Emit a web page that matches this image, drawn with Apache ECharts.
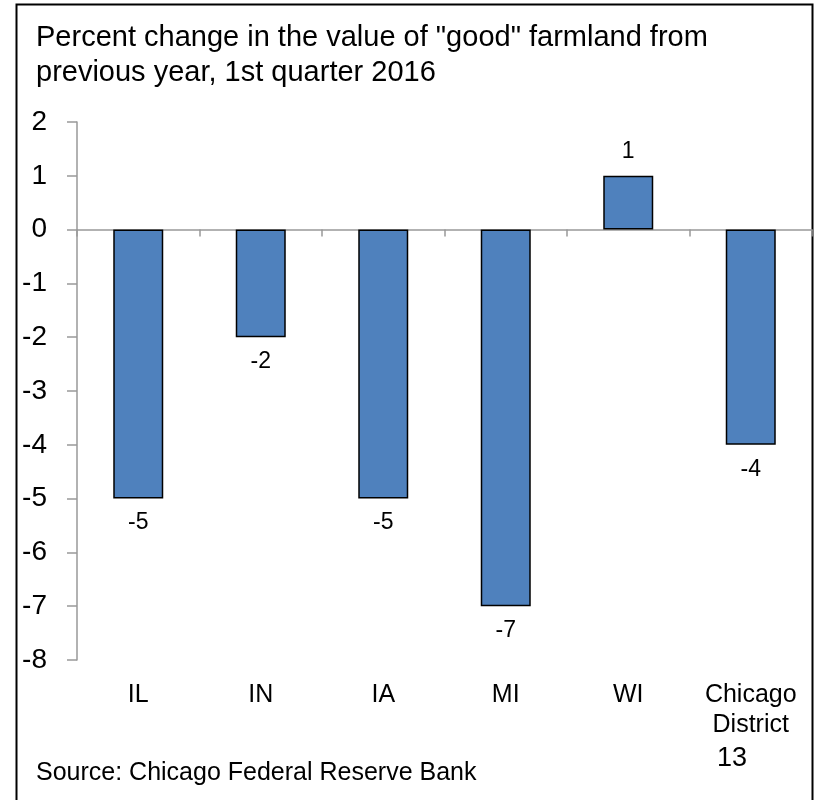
<!DOCTYPE html>
<html lang="en">
<head>
    <meta charset="utf-8">
    <title>Farmland value change</title>
    <script src="https://cdn.jsdelivr.net/npm/echarts@6/dist/echarts.min.js"></script>
    <style>
        html, body { margin: 0; padding: 0; background: #fff; }
        #main { width: 817px; height: 800px; }
    </style>
</head>
<body>
    <div id="main"></div>

    <script type="text/javascript">

    // data
    var states = ['IL', 'IN', 'IA', 'MI', 'WI', 'Chicago\nDistrict'];
    var change = [-5, -2, -5, -7, 1, -4];
    var yTicks = { min: -8, max: 2, step: 1 };
    var titleText = 'Percent change in the value of "good" farmland from\nprevious year, 1st quarter 2016';
    var sourceText = 'Source: Chicago Federal Reserve Bank';
    var pageNo = '13';

    var font = 'Liberation Sans, Arial, sans-serif';
    var myChart = echarts.init(document.getElementById('main'));

    // labels under the negative bars, above the positive one
    var barData = change.map(function (v) {
        return { value: v, label: { position: v < 0 ? 'bottom' : 'top' } };
    });

    myChart.setOption({
        animation: false,
        title: {
            text: titleText,
            left: 36,
            top: 20,
            padding: 0,
            textStyle: { fontFamily: font, fontSize: 29, fontWeight: 'normal', color: '#000', lineHeight: 35 }
        },
        grid: { left: 77, right: 5, top: 122, bottom: 140, containLabel: false },
        xAxis: [{
            // axis line sitting on zero, with the ticks between categories
            type: 'category',
            data: states,
            axisLine: { onZero: true, lineStyle: { color: '#999', width: 1.5 } },
            axisTick: { show: true, length: 7, lineStyle: { color: '#999', width: 1.5 } },
            axisLabel: { show: false }
        }, {
            // category names at the bottom
            type: 'category',
            position: 'bottom',
            data: states,
            axisLine: { show: false, onZero: false },
            axisTick: { show: false },
            axisLabel: { margin: 20, fontFamily: font, fontSize: 25, color: '#000', lineHeight: 30 }
        }],
        yAxis: {
            type: 'value',
            min: yTicks.min,
            max: yTicks.max,
            interval: yTicks.step,
            splitLine: { show: false },
            axisLine: { show: true, lineStyle: { color: '#999', width: 1.5 } },
            axisTick: { show: true, length: 10, lineStyle: { color: '#999', width: 1.5 } },
            axisLabel: { margin: 30, fontFamily: font, fontSize: 28, color: '#000' }
        },
        series: [{
            type: 'bar',
            xAxisIndex: 0,
            data: barData,
            barWidth: 50,
            itemStyle: { color: '#4F81BD', borderColor: '#000', borderWidth: 1.5 },
            label: { show: true, distance: 13, fontFamily: font, fontSize: 23, color: '#000' }
        }],
        graphic: [{
            type: 'rect',
            shape: { x: 16.5, y: 4.5, width: 796, height: 820 },
            style: { fill: 'none', stroke: '#000', lineWidth: 2 },
            silent: true
        }, {
            type: 'text',
            left: 36,
            top: 761,
            style: { text: sourceText, font: '25px ' + font, fill: '#000' }
        }, {
            type: 'text',
            left: 717,
            top: 745,
            style: { text: pageNo, font: '27px ' + font, fill: '#000' }
        }]
    });

    </script>
</body>
</html>
